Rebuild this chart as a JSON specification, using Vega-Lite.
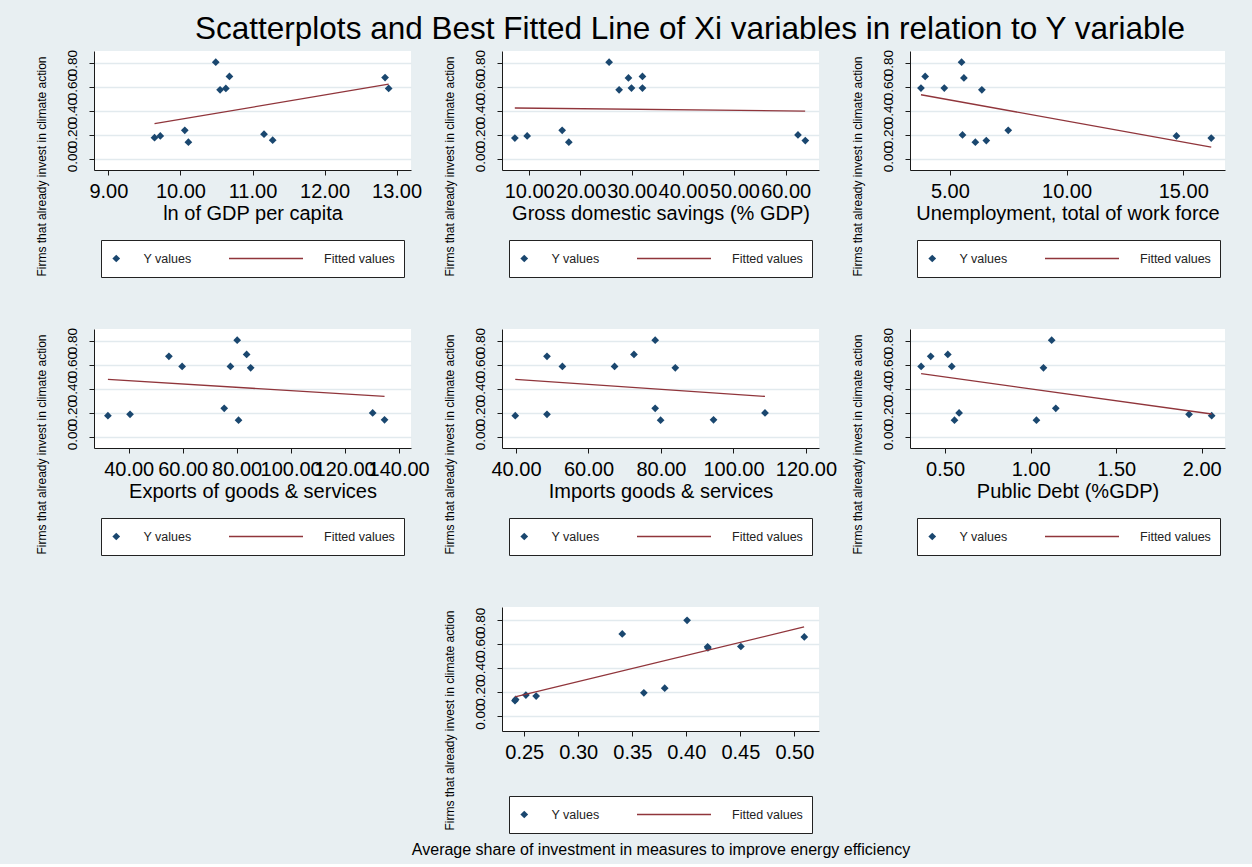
{
  "$schema": "https://vega.github.io/schema/vega-lite/v6.json",
  "background": "#e8eff2",
  "padding": {"left": 34, "top": 13, "right": 28, "bottom": 7},
  "title": {"text": "Scatterplots and Best Fitted Line of Xi variables in relation to Y variable", "font": "Liberation Sans", "fontSize": 31.5, "fontWeight": "normal", "color": "#000000", "anchor": "middle", "dx": 60, "offset": 4},
  "datasets": {
    "pts": [
      {"v": "gdp", "x": 9.64, "y": 0.175, "series": "Y values"},
      {"v": "gdp", "x": 9.72, "y": 0.189, "series": "Y values"},
      {"v": "gdp", "x": 10.06, "y": 0.236, "series": "Y values"},
      {"v": "gdp", "x": 10.11, "y": 0.137, "series": "Y values"},
      {"v": "gdp", "x": 10.49, "y": 0.803, "series": "Y values"},
      {"v": "gdp", "x": 10.55, "y": 0.573, "series": "Y values"},
      {"v": "gdp", "x": 10.63, "y": 0.585, "series": "Y values"},
      {"v": "gdp", "x": 10.68, "y": 0.684, "series": "Y values"},
      {"v": "gdp", "x": 11.16, "y": 0.204, "series": "Y values"},
      {"v": "gdp", "x": 11.28, "y": 0.154, "series": "Y values"},
      {"v": "gdp", "x": 12.84, "y": 0.675, "series": "Y values"},
      {"v": "gdp", "x": 12.89, "y": 0.585, "series": "Y values"},
      {"v": "sav", "x": 7.21, "y": 0.172, "series": "Y values"},
      {"v": "sav", "x": 9.61, "y": 0.189, "series": "Y values"},
      {"v": "sav", "x": 16.43, "y": 0.236, "series": "Y values"},
      {"v": "sav", "x": 17.73, "y": 0.137, "series": "Y values"},
      {"v": "sav", "x": 25.58, "y": 0.803, "series": "Y values"},
      {"v": "sav", "x": 27.53, "y": 0.573, "series": "Y values"},
      {"v": "sav", "x": 29.35, "y": 0.672, "series": "Y values"},
      {"v": "sav", "x": 29.94, "y": 0.588, "series": "Y values"},
      {"v": "sav", "x": 32.08, "y": 0.684, "series": "Y values"},
      {"v": "sav", "x": 32.08, "y": 0.588, "series": "Y values"},
      {"v": "sav", "x": 62.4, "y": 0.198, "series": "Y values"},
      {"v": "sav", "x": 63.83, "y": 0.151, "series": "Y values"},
      {"v": "unemp", "x": 3.76, "y": 0.588, "series": "Y values"},
      {"v": "unemp", "x": 3.94, "y": 0.684, "series": "Y values"},
      {"v": "unemp", "x": 4.76, "y": 0.588, "series": "Y values"},
      {"v": "unemp", "x": 5.5, "y": 0.803, "series": "Y values"},
      {"v": "unemp", "x": 5.54, "y": 0.198, "series": "Y values"},
      {"v": "unemp", "x": 5.6, "y": 0.672, "series": "Y values"},
      {"v": "unemp", "x": 6.09, "y": 0.137, "series": "Y values"},
      {"v": "unemp", "x": 6.37, "y": 0.573, "series": "Y values"},
      {"v": "unemp", "x": 6.56, "y": 0.151, "series": "Y values"},
      {"v": "unemp", "x": 7.5, "y": 0.236, "series": "Y values"},
      {"v": "unemp", "x": 14.71, "y": 0.189, "series": "Y values"},
      {"v": "unemp", "x": 16.2, "y": 0.172, "series": "Y values"},
      {"v": "exp", "x": 32.3, "y": 0.175, "series": "Y values"},
      {"v": "exp", "x": 40.5, "y": 0.186, "series": "Y values"},
      {"v": "exp", "x": 54.9, "y": 0.669, "series": "Y values"},
      {"v": "exp", "x": 59.8, "y": 0.585, "series": "Y values"},
      {"v": "exp", "x": 75.4, "y": 0.236, "series": "Y values"},
      {"v": "exp", "x": 77.7, "y": 0.585, "series": "Y values"},
      {"v": "exp", "x": 80.2, "y": 0.803, "series": "Y values"},
      {"v": "exp", "x": 80.7, "y": 0.137, "series": "Y values"},
      {"v": "exp", "x": 83.7, "y": 0.684, "series": "Y values"},
      {"v": "exp", "x": 85.2, "y": 0.573, "series": "Y values"},
      {"v": "exp", "x": 130.4, "y": 0.198, "series": "Y values"},
      {"v": "exp", "x": 134.8, "y": 0.14, "series": "Y values"},
      {"v": "imp", "x": 39.8, "y": 0.175, "series": "Y values"},
      {"v": "imp", "x": 48.55, "y": 0.669, "series": "Y values"},
      {"v": "imp", "x": 48.55, "y": 0.186, "series": "Y values"},
      {"v": "imp", "x": 52.8, "y": 0.585, "series": "Y values"},
      {"v": "imp", "x": 67.2, "y": 0.585, "series": "Y values"},
      {"v": "imp", "x": 72.55, "y": 0.684, "series": "Y values"},
      {"v": "imp", "x": 78.4, "y": 0.803, "series": "Y values"},
      {"v": "imp", "x": 78.4, "y": 0.236, "series": "Y values"},
      {"v": "imp", "x": 79.9, "y": 0.137, "series": "Y values"},
      {"v": "imp", "x": 83.95, "y": 0.573, "series": "Y values"},
      {"v": "imp", "x": 94.5, "y": 0.14, "series": "Y values"},
      {"v": "imp", "x": 108.7, "y": 0.198, "series": "Y values"},
      {"v": "debt", "x": 0.36, "y": 0.585, "series": "Y values"},
      {"v": "debt", "x": 0.416, "y": 0.669, "series": "Y values"},
      {"v": "debt", "x": 0.516, "y": 0.684, "series": "Y values"},
      {"v": "debt", "x": 0.539, "y": 0.585, "series": "Y values"},
      {"v": "debt", "x": 0.555, "y": 0.137, "series": "Y values"},
      {"v": "debt", "x": 0.582, "y": 0.198, "series": "Y values"},
      {"v": "debt", "x": 1.034, "y": 0.137, "series": "Y values"},
      {"v": "debt", "x": 1.075, "y": 0.573, "series": "Y values"},
      {"v": "debt", "x": 1.123, "y": 0.803, "series": "Y values"},
      {"v": "debt", "x": 1.147, "y": 0.236, "series": "Y values"},
      {"v": "debt", "x": 1.926, "y": 0.186, "series": "Y values"},
      {"v": "debt", "x": 2.058, "y": 0.175, "series": "Y values"},
      {"v": "energy", "x": 0.2414, "y": 0.128, "series": "Y values"},
      {"v": "energy", "x": 0.242, "y": 0.139, "series": "Y values"},
      {"v": "energy", "x": 0.2515, "y": 0.175, "series": "Y values"},
      {"v": "energy", "x": 0.261, "y": 0.167, "series": "Y values"},
      {"v": "energy", "x": 0.3407, "y": 0.686, "series": "Y values"},
      {"v": "energy", "x": 0.3607, "y": 0.194, "series": "Y values"},
      {"v": "energy", "x": 0.38, "y": 0.233, "series": "Y values"},
      {"v": "energy", "x": 0.4007, "y": 0.8, "series": "Y values"},
      {"v": "energy", "x": 0.4197, "y": 0.578, "series": "Y values"},
      {"v": "energy", "x": 0.42, "y": 0.569, "series": "Y values"},
      {"v": "energy", "x": 0.4505, "y": 0.581, "series": "Y values"},
      {"v": "energy", "x": 0.5092, "y": 0.661, "series": "Y values"}
    ],
    "fit": [
      {"v": "gdp", "x": 9.64, "y": 0.291},
      {"v": "gdp", "x": 12.89, "y": 0.62},
      {"v": "sav", "x": 7.2, "y": 0.422},
      {"v": "sav", "x": 63.8, "y": 0.396},
      {"v": "unemp", "x": 3.76, "y": 0.532},
      {"v": "unemp", "x": 16.2, "y": 0.096},
      {"v": "exp", "x": 32.3, "y": 0.477},
      {"v": "exp", "x": 134.8, "y": 0.335},
      {"v": "imp", "x": 39.8, "y": 0.477},
      {"v": "imp", "x": 108.7, "y": 0.335},
      {"v": "debt", "x": 0.36, "y": 0.524},
      {"v": "debt", "x": 2.058, "y": 0.189},
      {"v": "energy", "x": 0.2414, "y": 0.161},
      {"v": "energy", "x": 0.509, "y": 0.744}
    ]
  },
  "columns": 3,
  "spacing": {"row": 159, "column": 91},
  "bounds": "flush",
  "resolve": {
    "scale": {"color": "independent", "shape": "independent", "size": "independent"},
    "legend": {"color": "independent", "shape": "independent", "size": "independent"}
  },
  "concat": [
    {
      "width": 317, "height": 119,
      "encoding": {
        "x": {"field": "x", "type": "quantitative", "scale": {"domain": [8.8, 13.2], "nice": false, "zero": false}, "axis": {"values": [9, 10, 11, 12, 13], "format": ".2f", "title": "ln of GDP per capita"}},
        "y": {"field": "y", "type": "quantitative", "scale": {"domain": [-0.094, 0.896], "nice": false, "zero": false}, "axis": {"values": [0, 0.2, 0.4, 0.6, 0.8], "format": ".2f", "title": "Firms that already invest in climate action"}}
      },
      "layer": [
        {"data": {"name": "pts"}, "transform": [{"filter": "datum.v === 'gdp'"}], "mark": {"type": "point", "filled": true, "opacity": 1, "strokeWidth": 0},
         "encoding": {
           "color": {"field": "series", "type": "nominal", "title": null, "scale": {"domain": ["Y values", "Fitted values"], "range": ["#1a476f", "#90353b"]}},
           "shape": {"field": "series", "type": "nominal", "title": null, "scale": {"domain": ["Y values", "Fitted values"], "range": ["diamond", "M-1,-0.02L1,-0.02L1,0.02L-1,0.02Z"]}},
           "size": {"field": "series", "type": "nominal", "title": null, "scale": {"domain": ["Y values", "Fitted values"], "range": [60, 5476]}}
         }},
        {"data": {"name": "fit"}, "transform": [{"filter": "datum.v === 'gdp'"}], "mark": {"type": "line", "color": "#90353b", "strokeWidth": 1.3}, "encoding": {}}
      ]
    },
    {
      "width": 317, "height": 119,
      "encoding": {
        "x": {"field": "x", "type": "quantitative", "scale": {"domain": [4.7, 66.5], "nice": false, "zero": false}, "axis": {"values": [10, 20, 30, 40, 50, 60], "format": ".2f", "title": "Gross domestic savings (% GDP)"}},
        "y": {"field": "y", "type": "quantitative", "scale": {"domain": [-0.094, 0.896], "nice": false, "zero": false}, "axis": {"values": [0, 0.2, 0.4, 0.6, 0.8], "format": ".2f", "title": "Firms that already invest in climate action"}}
      },
      "layer": [
        {"data": {"name": "pts"}, "transform": [{"filter": "datum.v === 'sav'"}], "mark": {"type": "point", "filled": true, "opacity": 1, "strokeWidth": 0},
         "encoding": {
           "color": {"field": "series", "type": "nominal", "title": null, "scale": {"domain": ["Y values", "Fitted values"], "range": ["#1a476f", "#90353b"]}},
           "shape": {"field": "series", "type": "nominal", "title": null, "scale": {"domain": ["Y values", "Fitted values"], "range": ["diamond", "M-1,-0.02L1,-0.02L1,0.02L-1,0.02Z"]}},
           "size": {"field": "series", "type": "nominal", "title": null, "scale": {"domain": ["Y values", "Fitted values"], "range": [60, 5476]}}
         }},
        {"data": {"name": "fit"}, "transform": [{"filter": "datum.v === 'sav'"}], "mark": {"type": "line", "color": "#90353b", "strokeWidth": 1.3}, "encoding": {}}
      ]
    },
    {
      "width": 315, "height": 119,
      "encoding": {
        "x": {"field": "x", "type": "quantitative", "scale": {"domain": [3.29, 16.79], "nice": false, "zero": false}, "axis": {"values": [5, 10, 15], "format": ".2f", "title": "Unemployment, total of work force"}},
        "y": {"field": "y", "type": "quantitative", "scale": {"domain": [-0.094, 0.896], "nice": false, "zero": false}, "axis": {"values": [0, 0.2, 0.4, 0.6, 0.8], "format": ".2f", "title": "Firms that already invest in climate action"}}
      },
      "layer": [
        {"data": {"name": "pts"}, "transform": [{"filter": "datum.v === 'unemp'"}], "mark": {"type": "point", "filled": true, "opacity": 1, "strokeWidth": 0},
         "encoding": {
           "color": {"field": "series", "type": "nominal", "title": null, "scale": {"domain": ["Y values", "Fitted values"], "range": ["#1a476f", "#90353b"]}},
           "shape": {"field": "series", "type": "nominal", "title": null, "scale": {"domain": ["Y values", "Fitted values"], "range": ["diamond", "M-1,-0.02L1,-0.02L1,0.02L-1,0.02Z"]}},
           "size": {"field": "series", "type": "nominal", "title": null, "scale": {"domain": ["Y values", "Fitted values"], "range": [60, 5476]}}
         }},
        {"data": {"name": "fit"}, "transform": [{"filter": "datum.v === 'unemp'"}], "mark": {"type": "line", "color": "#90353b", "strokeWidth": 1.3}, "encoding": {}}
      ]
    },
    {
      "width": 317, "height": 119,
      "encoding": {
        "x": {"field": "x", "type": "quantitative", "scale": {"domain": [27.15, 144.6], "nice": false, "zero": false}, "axis": {"values": [40, 60, 80, 100, 120, 140], "format": ".2f", "title": "Exports of goods & services"}},
        "y": {"field": "y", "type": "quantitative", "scale": {"domain": [-0.094, 0.896], "nice": false, "zero": false}, "axis": {"values": [0, 0.2, 0.4, 0.6, 0.8], "format": ".2f", "title": "Firms that already invest in climate action"}}
      },
      "layer": [
        {"data": {"name": "pts"}, "transform": [{"filter": "datum.v === 'exp'"}], "mark": {"type": "point", "filled": true, "opacity": 1, "strokeWidth": 0},
         "encoding": {
           "color": {"field": "series", "type": "nominal", "title": null, "scale": {"domain": ["Y values", "Fitted values"], "range": ["#1a476f", "#90353b"]}},
           "shape": {"field": "series", "type": "nominal", "title": null, "scale": {"domain": ["Y values", "Fitted values"], "range": ["diamond", "M-1,-0.02L1,-0.02L1,0.02L-1,0.02Z"]}},
           "size": {"field": "series", "type": "nominal", "title": null, "scale": {"domain": ["Y values", "Fitted values"], "range": [60, 5476]}}
         }},
        {"data": {"name": "fit"}, "transform": [{"filter": "datum.v === 'exp'"}], "mark": {"type": "line", "color": "#90353b", "strokeWidth": 1.3}, "encoding": {}}
      ]
    },
    {
      "width": 317, "height": 119,
      "encoding": {
        "x": {"field": "x", "type": "quantitative", "scale": {"domain": [36.14, 123.6], "nice": false, "zero": false}, "axis": {"values": [40, 60, 80, 100, 120], "format": ".2f", "title": "Imports goods & services"}},
        "y": {"field": "y", "type": "quantitative", "scale": {"domain": [-0.094, 0.896], "nice": false, "zero": false}, "axis": {"values": [0, 0.2, 0.4, 0.6, 0.8], "format": ".2f", "title": "Firms that already invest in climate action"}}
      },
      "layer": [
        {"data": {"name": "pts"}, "transform": [{"filter": "datum.v === 'imp'"}], "mark": {"type": "point", "filled": true, "opacity": 1, "strokeWidth": 0},
         "encoding": {
           "color": {"field": "series", "type": "nominal", "title": null, "scale": {"domain": ["Y values", "Fitted values"], "range": ["#1a476f", "#90353b"]}},
           "shape": {"field": "series", "type": "nominal", "title": null, "scale": {"domain": ["Y values", "Fitted values"], "range": ["diamond", "M-1,-0.02L1,-0.02L1,0.02L-1,0.02Z"]}},
           "size": {"field": "series", "type": "nominal", "title": null, "scale": {"domain": ["Y values", "Fitted values"], "range": [60, 5476]}}
         }},
        {"data": {"name": "fit"}, "transform": [{"filter": "datum.v === 'imp'"}], "mark": {"type": "line", "color": "#90353b", "strokeWidth": 1.3}, "encoding": {}}
      ]
    },
    {
      "width": 315, "height": 119,
      "encoding": {
        "x": {"field": "x", "type": "quantitative", "scale": {"domain": [0.295, 2.136], "nice": false, "zero": false}, "axis": {"values": [0.5, 1, 1.5, 2], "format": ".2f", "title": "Public Debt (%GDP)"}},
        "y": {"field": "y", "type": "quantitative", "scale": {"domain": [-0.094, 0.896], "nice": false, "zero": false}, "axis": {"values": [0, 0.2, 0.4, 0.6, 0.8], "format": ".2f", "title": "Firms that already invest in climate action"}}
      },
      "layer": [
        {"data": {"name": "pts"}, "transform": [{"filter": "datum.v === 'debt'"}], "mark": {"type": "point", "filled": true, "opacity": 1, "strokeWidth": 0},
         "encoding": {
           "color": {"field": "series", "type": "nominal", "title": null, "scale": {"domain": ["Y values", "Fitted values"], "range": ["#1a476f", "#90353b"]}},
           "shape": {"field": "series", "type": "nominal", "title": null, "scale": {"domain": ["Y values", "Fitted values"], "range": ["diamond", "M-1,-0.02L1,-0.02L1,0.02L-1,0.02Z"]}},
           "size": {"field": "series", "type": "nominal", "title": null, "scale": {"domain": ["Y values", "Fitted values"], "range": [60, 5476]}}
         }},
        {"data": {"name": "fit"}, "transform": [{"filter": "datum.v === 'debt'"}], "mark": {"type": "line", "color": "#90353b", "strokeWidth": 1.3}, "encoding": {}}
      ]
    },
    {
      "width": 317, "height": 124,
      "data": {"values": []},
      "mark": "point",
      "encoding": {},
      "view": {"fill": null, "stroke": null}
    },
    {
      "width": 317, "height": 124,
      "encoding": {
        "x": {"field": "x", "type": "quantitative", "scale": {"domain": [0.2294, 0.5228], "nice": false, "zero": false}, "axis": {"values": [0.25, 0.3, 0.35, 0.4, 0.45, 0.5], "format": ".2f", "title": "Average share of investment in measures to improve energy efficiency", "titleFontSize": 16, "titlePadding": 79}},
        "y": {"field": "y", "type": "quantitative", "scale": {"domain": [-0.125, 0.911], "nice": false, "zero": false}, "axis": {"values": [0, 0.2, 0.4, 0.6, 0.8], "format": ".2f", "title": "Firms that already invest in climate action", "titleY": 113}}
      },
      "layer": [
        {"data": {"name": "pts"}, "transform": [{"filter": "datum.v === 'energy'"}], "mark": {"type": "point", "filled": true, "opacity": 1, "strokeWidth": 0},
         "encoding": {
           "color": {"field": "series", "type": "nominal", "title": null, "scale": {"domain": ["Y values", "Fitted values"], "range": ["#1a476f", "#90353b"]}},
           "shape": {"field": "series", "type": "nominal", "title": null, "scale": {"domain": ["Y values", "Fitted values"], "range": ["diamond", "M-1,-0.02L1,-0.02L1,0.02L-1,0.02Z"]}},
           "size": {"field": "series", "type": "nominal", "title": null, "scale": {"domain": ["Y values", "Fitted values"], "range": [60, 5476]}}
         }},
        {"data": {"name": "fit"}, "transform": [{"filter": "datum.v === 'energy'"}], "mark": {"type": "line", "color": "#90353b", "strokeWidth": 1.3}, "encoding": {}}
      ]
    }
  ],
  "config": {
    "font": "Liberation Sans",
    "view": {"fill": "white", "stroke": null},
    "axis": {
      "labelFont": "Liberation Sans", "titleFont": "Liberation Sans",
      "labelColor": "#000000", "titleColor": "#000000",
      "domainColor": "#1a1a1a", "domainWidth": 1, "tickColor": "#1a1a1a", "tickSize": 5, "tickWidth": 1,
      "labelOverlap": false, "labelFlush": false, "labelBound": false,
      "titleFontWeight": "normal"
    },
    "axisX": {"grid": false, "labelFontSize": 20, "labelPadding": 6, "titleFontSize": 20, "titlePadding": 2},
    "axisY": {"grid": true, "gridColor": "#e2eaee", "gridWidth": 1.5, "labelFontSize": 13.5, "labelAngle": 270, "labelPadding": 10, "titleFontSize": 12, "titleX": -53, "titleY": 115, "titleAngle": 270, "titleAlign": "center", "titleBaseline": "middle"},
    "legend": {
      "orient": "none", "legendX": 7, "legendY": 189, "direction": "horizontal",
      "fillColor": "white", "strokeColor": "#222222", "padding": 9,
      "labelFont": "Liberation Sans", "labelFontSize": 12.5, "labelColor": "#222222", "labelLimit": 200,
      "labelOffset": 21, "columnPadding": 37, "clipHeight": 19,
      "symbolStrokeWidth": 0, "symbolOpacity": 1
    }
  }
}
